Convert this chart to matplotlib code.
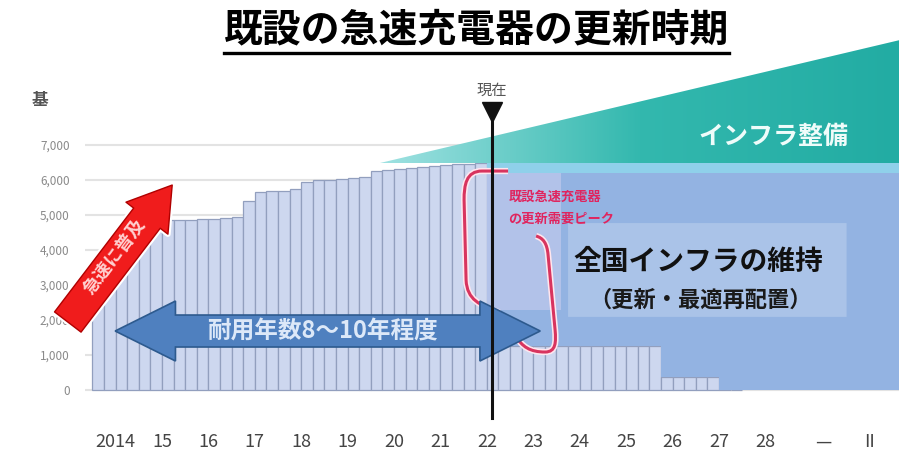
import numpy as np
import matplotlib
matplotlib.use("Agg")
import matplotlib.pyplot as plt
import matplotlib.patheffects as pe
from matplotlib.patches import FancyArrowPatch, Polygon, PathPatch, FancyBboxPatch
from matplotlib.path import Path
from matplotlib.lines import Line2D
from matplotlib.colors import LinearSegmentedColormap

plt.rcParams['font.family'] = ['Noto Sans CJK JP', 'DejaVu Sans']

title = "既設の急速充電器の更新時期"

# installed quick chargers, quarterly, 2014 Q1 .. 2022 Q2
installed = [2400, 3000, 3700, 4300,
             4700, 4800, 4850, 4850,
             4850, 4880, 4900, 4920,
             4950, 5400, 5650, 5700,
             5700, 5750, 5950, 6000,
             6000, 6020, 6050, 6080,
             6250, 6300, 6320, 6350,
             6380, 6400, 6420, 6450,
             6470, 6490]
# chargers still inside their service life, 2022 Q3 .. 2027 Q4
remaining = [1250, 1250,
             1250, 1250, 1250, 1250,
             1250, 1250, 1250, 1250,
             1250, 1250, 1250, 1250,
             1250, 370, 370, 370,
             370, 370, 0, 0]

maintain_level = 6200      # existing network to keep up
build_level = 6490         # where new build-out starts
build_years = [2019.7, 2030.9]
build_top = [6490, 10000]

now_year = 2022.1

year_ticks = list(range(2014, 2029)) + [2029.25, 2030.25]
year_labels = ["2014"] + [f"{y % 100}" for y in range(2015, 2029)] + ["—", "II"]
y_ticks = list(range(0, 8000, 1000))

# quarter centres
q_installed = [2014 + i * 0.25 - 0.375 for i in range(len(installed))]
q_remaining = [q_installed[-1] + 0.25 * (i + 1) for i in range(len(remaining))]

fig = plt.figure(figsize=(8.99, 4.63), dpi=100)
ax = fig.add_axes([0.0945, 0.136, 0.9055, 0.7775])

ax.set_axisbelow(True)
ax.yaxis.grid(True, color='#e3e3e3', lw=1.5)
for s in ax.spines.values():
    s.set_visible(False)

ax.bar(q_installed, installed, width=0.25, color='#cdd7ef', edgecolor='#929fbe', lw=0.9, zorder=2)
ax.bar(q_remaining, remaining, width=0.25, color='#cdd7ef', edgecolor='#929fbe', lw=0.9, zorder=2)

# new infrastructure wedge with a soft gradient
wedge = Polygon([(build_years[0], build_level), (build_years[1], build_level),
                 (build_years[1], build_top[1])], closed=True, fc='none', ec='none')
ax.add_patch(wedge)
teal = LinearSegmentedColormap.from_list('teal', ['#a0e2e2', '#33b8ae', '#22aca3'])
grad = np.linspace(0, 1, 256).reshape(1, -1)
im = ax.imshow(grad, extent=[build_years[0], build_years[1], build_level, build_top[1]],
               aspect='auto', cmap=teal, origin='lower', zorder=3)
im.set_clip_path(wedge)

# maintenance region above the remaining chargers
edges = [q - 0.125 for q in q_remaining] + [q_remaining[-1] + 0.125, build_years[1]]
lower = remaining + [0, 0]
ax.fill_between(edges, lower, maintain_level, step='post', color='#93b3e2', lw=0, zorder=3)
ax.fill_between([q_remaining[0] - 0.125, build_years[1]], maintain_level, build_level,
                color='#8fd0ea', lw=0, zorder=3)

ax.text(2028.17, 7230, "インフラ整備", ha='center', va='center', fontsize=18,
        weight='bold', color='#effcfa', zorder=6)

ax.add_patch(FancyBboxPatch((2023.75, 2090), 6.0, 2680, boxstyle='round,pad=0,rounding_size=0.2',
                            fc='white', alpha=0.22, ec='none', zorder=4))
ax.text(2026.55, 3660, "全国インフラの維持", ha='center', va='center', fontsize=20,
        weight='bold', color='#111111', zorder=6)
ax.text(2026.6, 2570, "（更新・最適再配置）", ha='center', va='center', fontsize=16,
        weight='bold', color='#1a1a1a', zorder=6)

# lighter patch beside the current-year line
ax.add_patch(FancyBboxPatch((2022.0, 2300), 1.6, 3900, boxstyle='square,pad=0',
                            fc='#d9d6f2', alpha=0.45, ec='none', zorder=3.5))

# red loop around the renewal peak
verts = [(2022.457, 6257), (2021.897, 6257),
         (2021.552, 6257), (2021.509, 5857), (2021.509, 5429),
         (2021.552, 3143),
         (2021.573, 2571), (2021.853, 2429), (2022.241, 2229),
         (2022.608, 1571),
         (2022.759, 1229), (2022.931, 1086), (2023.254, 1086),
         (2023.491, 1086), (2023.491, 1371), (2023.470, 1714),
         (2023.319, 3857),
         (2023.297, 4200), (2023.211, 4343), (2023.060, 4400)]
codes = [Path.MOVETO, Path.LINETO,
         Path.CURVE4, Path.CURVE4, Path.CURVE4,
         Path.LINETO,
         Path.CURVE4, Path.CURVE4, Path.CURVE4,
         Path.LINETO,
         Path.CURVE4, Path.CURVE4, Path.CURVE4,
         Path.CURVE4, Path.CURVE4, Path.CURVE4,
         Path.LINETO,
         Path.CURVE4, Path.CURVE4, Path.CURVE4]
ax.add_patch(PathPatch(Path(verts, codes), fc='none', ec='#d8345f', lw=2.2, zorder=4.5,
                       path_effects=[pe.withStroke(linewidth=4.5, foreground='#ffe6ee')]))

ax.text(2022.46, 5510, "既設急速充電器", ha='left', va='center', fontsize=9.5,
        weight='bold', color='#e0245e', zorder=6)
ax.text(2022.46, 4890, "の更新需要ピーク", ha='left', va='center', fontsize=9.5,
        weight='bold', color='#e0245e', zorder=6)

# service-life double arrow
x0, x1, yc = 2013.99, 2023.15, 1686
bh, hh, hl = 457, 857, 1.3
ax.add_patch(Polygon([(x0, yc), (x0 + hl, yc + hh), (x0 + hl, yc + bh), (x1 - hl, yc + bh),
                      (x1 - hl, yc + hh), (x1, yc), (x1 - hl, yc - hh), (x1 - hl, yc - bh),
                      (x0 + hl, yc - bh), (x0 + hl, yc - hh)], closed=True,
                     fc='#4f80bf', ec='#2d5a8e', lw=1.2, zorder=5))
ax.text(2018.45, 1686, "耐用年数8～10年程度", ha='center', va='center', fontsize=17,
        weight='bold', color='#dce8f8', zorder=6)

# rapid spread arrow
ax.add_patch(FancyArrowPatch((2012.97, 1943), (2015.22, 5857),
                             arrowstyle='simple,head_width=1.9,head_length=1.5,tail_width=1.2',
                             mutation_scale=20, shrinkA=0, shrinkB=0, fc='#f01c1c', ec='#b00000',
                             lw=1, zorder=6, clip_on=False,
                             path_effects=[pe.withStroke(linewidth=4, foreground='white')]))
ax.text(2013.98, 3800, "急速に普及", rotation=53, rotation_mode='anchor', ha='center',
        va='center', fontsize=13, weight='bold', color='#ffd0d0', zorder=7)

# current year marker
ax.plot([now_year, now_year], [-800, 7940], color='#111111', lw=2.2, zorder=8, clip_on=False)
ax.plot(now_year, 7940, marker='v', ms=15, color='#111111', zorder=9, clip_on=False)
ax.text(now_year, 8550, "現在", ha='center', va='center', fontsize=11, color='#555555', zorder=9)

ax.set_xlim(2013.34, 2030.88)
ax.set_ylim(-286, 10000)
ax.set_yticks(y_ticks)
ax.set_yticklabels([f"{v:,}" for v in y_ticks])
ax.set_xticks(year_ticks)
ax.set_xticklabels(year_labels)
ax.tick_params(axis='y', length=0, pad=11, labelsize=8.5, labelcolor='#8a8a8a')
ax.tick_params(axis='x', length=0, pad=24, labelsize=13, labelcolor='#444444')

fig.text(40 / 899, 1 - 100 / 463, "基", ha='center', va='center', fontsize=12,
         weight='bold', color='#555555')

t = fig.text(0.53, 0.935, title, ha='center', va='center', fontsize=28, weight='bold', color='black')
fig.canvas.draw()
bb = t.get_window_extent()
W, H = fig.bbox.width, fig.bbox.height
uy = (bb.y0 - 3) / H
fig.add_artist(Line2D([bb.x0 / W, bb.x1 / W], [uy, uy], color='black', lw=2.4))

fig.savefig("out.png", dpi=100)
